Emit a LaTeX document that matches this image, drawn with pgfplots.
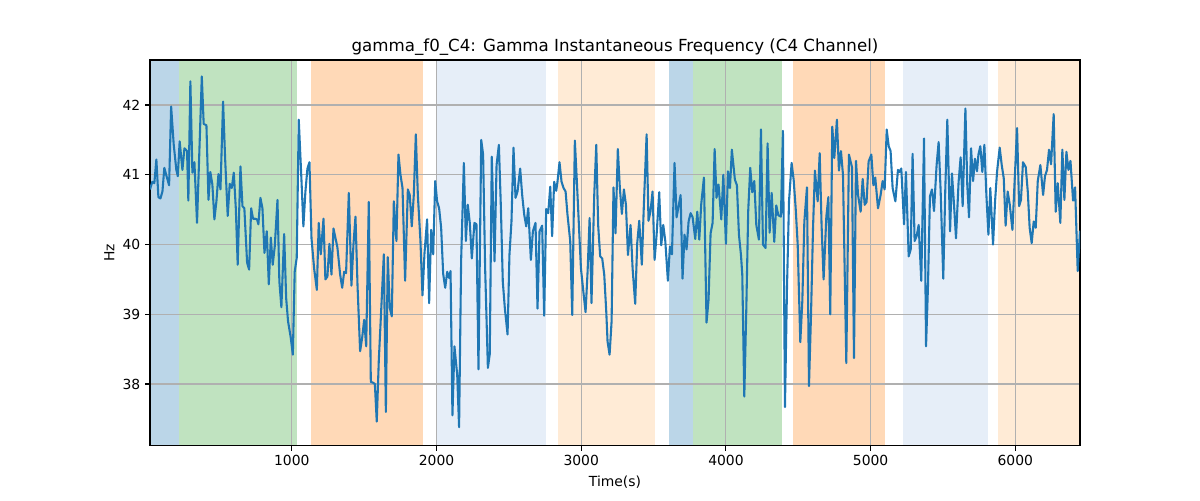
\documentclass[border=0pt]{standalone}
\usepackage{fontspec}
\setmainfont{DejaVu Sans}
\usepackage{pgfplots}
\pgfplotsset{compat=1.18}
\definecolor{tabblue}{HTML}{1F77B4}
\definecolor{spanblue}{HTML}{BBD6E8}
\definecolor{spangreen}{HTML}{C0E3C0}
\definecolor{spanorange}{HTML}{FFD9B7}
\definecolor{spanlblue}{HTML}{E6EEF8}
\definecolor{spanlorange}{HTML}{FFEBD6}
\definecolor{gridgray}{HTML}{B0B0B0}
\begin{document}
\begin{tikzpicture}[x=1pt,y=1pt]
\path (0,0) rectangle (864,360);
\begin{axis}[
  set layers,
  at={(108pt,39.1pt)}, anchor=south west,
  width=669.6pt, height=277.7pt, scale only axis,
  xmin=20, xmax=6447, ymin=37.115, ymax=42.646,
  xtick={1000,2000,3000,4000,5000,6000},
  ytick={38,39,40,41,42},
  grid=major,
  major grid style={draw=gridgray, line width=0.8pt},
  axis line style={line width=0.8pt},
  tick style={black, line width=0.8pt},
  tick align=outside, major tick length=3.5pt,
  tick pos=left,
  /pgf/number format/assume math mode=true,
  /pgf/number format/1000 sep={},
  ticklabel style={font=\fontsize{10}{12}\selectfont},
  title={gamma\_f0\_C4: Gamma Instantaneous Frequency (C4 Channel)},
  title style={font=\fontsize{12}{14}\selectfont, yshift=-6pt},
  xlabel={Time(s)}, ylabel={Hz},
  label style={font=\fontsize{10}{12}\selectfont},
  xlabel style={yshift=-0.6pt},
  ylabel style={yshift=-1pt},
]
\addplot[draw=none, fill=spanblue, on layer=axis background] coordinates {(20,37.115) (218,37.115) (218,42.646) (20,42.646)} -- cycle;
\addplot[draw=none, fill=spangreen, on layer=axis background] coordinates {(218,37.115) (1036,37.115) (1036,42.646) (218,42.646)} -- cycle;
\addplot[draw=none, fill=spanorange, on layer=axis background] coordinates {(1131,37.115) (1910,37.115) (1910,42.646) (1131,42.646)} -- cycle;
\addplot[draw=none, fill=spanlblue, on layer=axis background] coordinates {(2004,37.115) (2760,37.115) (2760,42.646) (2004,42.646)} -- cycle;
\addplot[draw=none, fill=spanlorange, on layer=axis background] coordinates {(2839,37.115) (3507,37.115) (3507,42.646) (2839,42.646)} -- cycle;
\addplot[draw=none, fill=spanblue, on layer=axis background] coordinates {(3608,37.115) (3774,37.115) (3774,42.646) (3608,42.646)} -- cycle;
\addplot[draw=none, fill=spangreen, on layer=axis background] coordinates {(3774,37.115) (4385,37.115) (4385,42.646) (3774,42.646)} -- cycle;
\addplot[draw=none, fill=spanorange, on layer=axis background] coordinates {(4463,37.115) (5097,37.115) (5097,42.646) (4463,42.646)} -- cycle;
\addplot[draw=none, fill=spanlblue, on layer=axis background] coordinates {(5224,37.115) (5809,37.115) (5809,42.646) (5224,42.646)} -- cycle;
\addplot[draw=none, fill=spanlorange, on layer=axis background] coordinates {(5880,37.115) (6447,37.115) (6447,42.646) (5880,42.646)} -- cycle;
\addplot[tabblue, line width=1.5pt, line join=round, no markers] table {
x y
20 40.79
36 40.90
50 40.88
64 41.22
78 40.68
92 40.66
106 40.76
119 41.10
133 40.99
152 40.85
166 41.98
184 41.43
202 41.07
212 40.98
225 41.48
244 41.07
258 41.38
276 41.34
285 40.63
299 42.34
313 41.03
327 41.18
345 40.31
378 42.41
391 41.73
410 41.71
424 40.64
437 41.04
451 40.86
465 40.36
479 40.62
493 41.01
507 40.79
525 42.05
539 41.24
557 40.41
571 40.87
585 40.81
599 41.03
613 40.52
626 39.71
645 41.12
659 40.55
672 40.52
691 39.74
705 39.64
719 40.52
732 40.37
746 40.37
760 40.36
769 40.29
783 40.67
797 40.52
811 39.88
827 40.19
841 39.43
855 40.10
868 39.71
882 39.97
901 40.64
914 39.47
928 39.10
947 40.15
961 39.23
974 38.90
993 38.66
1007 38.42
1020 39.61
1034 39.81
1048 41.79
1067 40.91
1080 40.26
1094 40.76
1108 41.09
1122 41.18
1136 40.09
1154 39.66
1173 39.35
1186 40.31
1200 39.86
1219 40.37
1232 39.50
1246 39.54
1260 40.01
1274 39.57
1288 40.23
1302 40.09
1315 39.96
1334 39.57
1348 39.38
1362 39.61
1375 39.59
1394 40.74
1412 39.41
1426 40.00
1440 40.40
1454 39.42
1472 38.47
1486 38.66
1500 38.92
1514 38.54
1532 40.61
1546 38.03
1560 38.02
1574 38.00
1587 37.46
1601 38.33
1636 39.86
1650 37.60
1663 39.82
1677 39.09
1691 38.97
1705 40.62
1723 40.05
1737 41.29
1751 41.00
1765 40.81
1783 39.48
1802 40.79
1815 40.71
1829 40.26
1843 40.71
1857 41.58
1871 40.71
1889 40.05
1903 39.27
1917 39.88
1935 40.36
1949 39.16
1963 40.21
1977 39.86
1991 40.91
2004 40.62
2018 40.52
2032 40.24
2046 39.58
2060 39.38
2074 39.61
2087 39.52
2097 39.62
2110 37.55
2124 38.54
2143 38.13
2156 37.38
2170 39.76
2189 41.17
2203 40.05
2216 40.57
2230 40.31
2244 39.80
2262 40.31
2276 40.29
2290 38.21
2309 41.50
2322 41.29
2336 39.66
2355 38.23
2368 38.43
2382 41.26
2401 39.76
2415 41.14
2431 41.43
2445 40.52
2458 39.47
2472 39.09
2491 38.71
2504 39.85
2518 40.33
2532 41.39
2546 40.67
2560 40.76
2578 41.09
2592 40.71
2606 40.43
2620 40.26
2634 40.52
2652 39.78
2666 40.19
2684 40.31
2698 39.08
2712 40.19
2730 40.27
2744 38.98
2758 40.51
2772 40.45
2786 40.83
2799 40.12
2813 40.90
2827 40.77
2836 40.90
2850 41.18
2864 40.90
2878 40.81
2892 40.76
2905 40.43
2924 40.05
2938 38.99
2956 41.49
2970 40.90
2984 40.28
2998 39.66
3016 39.30
3030 39.03
3044 39.61
3058 40.38
3071 39.16
3090 40.71
3104 41.43
3117 40.28
3131 39.83
3145 39.80
3159 39.57
3173 39.04
3182 38.61
3196 38.42
3210 38.90
3223 40.82
3237 40.16
3253 41.37
3267 40.81
3281 40.44
3295 40.79
3309 40.57
3323 39.85
3341 40.28
3355 39.66
3373 39.15
3387 40.02
3401 40.34
3419 39.71
3433 40.57
3452 41.58
3465 40.34
3479 40.48
3493 40.76
3507 39.78
3521 40.14
3539 40.75
3553 39.99
3567 40.28
3581 40.05
3599 39.48
3613 39.97
3627 39.86
3645 41.17
3659 40.39
3673 40.55
3687 40.71
3700 39.51
3714 40.14
3728 39.93
3742 40.33
3756 40.45
3770 40.39
3788 40.08
3802 40.47
3816 40.07
3829 40.57
3848 40.96
3866 38.88
3880 39.21
3894 40.16
3908 40.31
3922 41.37
3935 40.67
3949 40.86
3968 40.36
3982 41.00
4000 40.01
4014 41.05
4028 40.81
4041 41.36
4062 40.93
4076 40.85
4090 40.14
4104 39.85
4113 39.57
4127 37.82
4141 39.09
4154 40.48
4168 41.10
4182 40.75
4196 40.91
4210 40.28
4228 40.07
4242 41.65
4256 40.00
4274 39.95
4288 41.45
4302 40.17
4316 40.74
4334 40.04
4348 40.56
4362 40.42
4380 40.40
4394 41.63
4408 37.67
4422 39.38
4436 40.62
4454 41.17
4468 40.93
4482 40.52
4496 40.00
4514 38.60
4528 39.19
4542 40.33
4560 40.82
4574 37.97
4588 38.99
4602 40.24
4615 41.06
4634 40.62
4648 41.31
4661 40.28
4675 39.50
4694 40.40
4708 40.68
4721 39.00
4735 41.69
4749 41.24
4767 41.79
4781 41.06
4795 41.34
4809 41.00
4832 38.30
4850 41.29
4871 41.11
4885 38.37
4899 41.20
4913 40.71
4931 40.47
4945 40.94
4959 40.57
4972 40.61
4986 41.19
5005 41.29
5019 40.85
5032 40.96
5051 40.52
5069 40.71
5083 40.91
5097 40.79
5111 41.65
5125 41.41
5138 41.34
5152 40.81
5171 40.62
5189 41.07
5198 41.04
5212 41.09
5231 40.29
5244 41.04
5263 39.83
5277 39.93
5290 41.30
5304 40.05
5318 40.12
5332 40.28
5350 39.48
5369 41.52
5383 38.54
5396 39.38
5410 40.69
5424 40.79
5438 40.48
5456 41.14
5470 41.47
5484 40.76
5502 39.51
5516 40.79
5530 41.79
5549 40.19
5562 41.02
5576 40.58
5590 40.09
5608 40.90
5622 41.25
5636 40.55
5655 41.95
5668 40.85
5680 40.39
5694 41.38
5708 40.91
5721 41.23
5735 41.05
5745 41.29
5758 41.41
5772 41.04
5786 41.43
5800 40.71
5814 40.14
5827 40.81
5846 40.00
5860 40.62
5874 41.05
5892 41.39
5906 41.14
5920 40.95
5933 40.27
5947 40.76
5961 40.58
5980 40.21
5993 40.81
6012 41.67
6026 40.55
6039 40.64
6053 41.18
6072 41.11
6086 40.76
6099 40.24
6113 40.02
6127 40.33
6141 40.24
6155 40.91
6173 41.14
6192 40.71
6205 40.98
6219 41.07
6233 41.36
6247 41.15
6265 41.87
6279 40.47
6293 40.88
6311 40.31
6325 41.36
6339 40.64
6353 41.33
6367 41.07
6381 41.20
6399 40.63
6413 40.82
6431 39.62
6447 40.20
};
\end{axis}
\end{tikzpicture}
\end{document}
